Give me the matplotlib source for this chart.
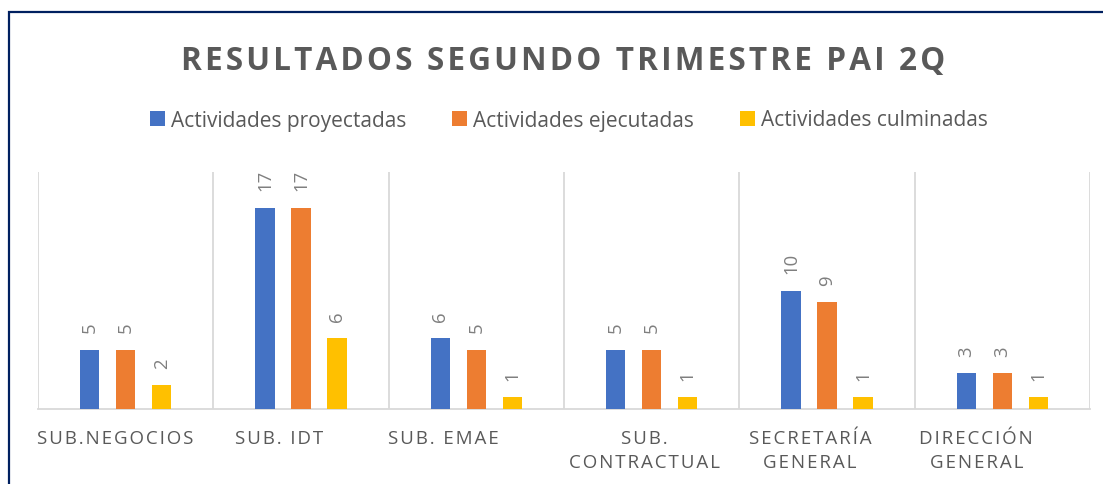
import matplotlib
matplotlib.use("Agg")
import matplotlib.pyplot as plt
from matplotlib.patches import Rectangle
import numpy as np

# data
categories = ["SUB.NEGOCIOS", "SUB. IDT", "SUB. EMAE", "SUB.\nCONTRACTUAL",
              "SECRETARÍA\nGENERAL", "DIRECCIÓN\nGENERAL"]
series_names = ["Actividades proyectadas", "Actividades ejecutadas", "Actividades culminadas"]
proyectadas = [5, 17, 6, 5, 10, 3]
ejecutadas = [5, 17, 5, 5, 9, 3]
culminadas = [2, 6, 1, 1, 1, 1]
title = "RESULTADOS SEGUNDO TRIMESTRE PAI 2Q"

colors = ["#4472C4", "#ED7D31", "#FFC000"]
label_shift_px = [-10, -22, -33, -7, -17, -26]  # tick labels sit off-centre in the original

W, H, DPI = 1103, 485, 100
plt.rcParams["font.family"] = ["Open Sans", "DejaVu Sans"]


def spaced(s):
    # fake letter spacing with hair spaces, line by line
    return "\n".join("\u200a".join(line) for line in s.split("\n"))


fig = plt.figure(figsize=(W / DPI, H / DPI), dpi=DPI)
ax = fig.add_axes([38 / W, 1 - 410 / H, (1090 - 38) / W, (410 - 173) / H])

x = np.arange(len(categories))
offset, width = 0.206, 0.11
for i, vals in enumerate([proyectadas, ejecutadas, culminadas]):
    bars = ax.bar(x + (i - 1) * offset, vals, width, color=colors[i], label=series_names[i], zorder=3)
    for b, v in zip(bars, vals):
        ax.annotate(str(v), (b.get_x() + b.get_width() / 2, v), xytext=(0, 12.5),
                    textcoords="offset points", rotation=90, ha="center", va="bottom",
                    fontsize=13.3, color="#7F7F7F")

ax.set_xlim(-0.5, len(categories) - 0.5)
ax.set_ylim(0, 20)
ax.set_yticks([])
ax.set_xticks(np.arange(-0.5, len(categories)))
ax.set_xticklabels([])
ax.tick_params(axis="x", length=0)
ax.grid(axis="x", color="#D9D9D9", linewidth=1.3, zorder=0)
for s in ["top", "right", "left"]:
    ax.spines[s].set_visible(False)
ax.spines["bottom"].set_color("#D9D9D9")
ax.spines["bottom"].set_linewidth(1.3)

# category labels, placed by hand for the off-centre look
for xi, lab, sh in zip(x, categories, label_shift_px):
    ax.annotate(spaced(lab), (xi, 0), xytext=(sh * 72 / DPI, -20 * 72 / DPI), textcoords="offset points",
                ha="center", va="top", fontsize=13.5, color="#595959", linespacing=1.4)

fig.text(563 / W, 1 - 70 / H, spaced(title), ha="center", va="baseline",
         fontsize=22.7, fontweight="bold", color="#595959")

leg = fig.legend(loc="center", bbox_to_anchor=(569 / W, 1 - 121 / H), ncol=3, frameon=False,
                 fontsize=15, handlelength=0.7, handleheight=0.7, handletextpad=0.3, columnspacing=2.2,
                 labelcolor="#595959")

fig.patches.append(Rectangle((9 / W, -0.1), 1.2, 1 - 13 / H + 0.1, transform=fig.transFigure,
                             fill=False, edgecolor="#002060", linewidth=1.6))

fig.savefig("out.png", dpi=DPI)
